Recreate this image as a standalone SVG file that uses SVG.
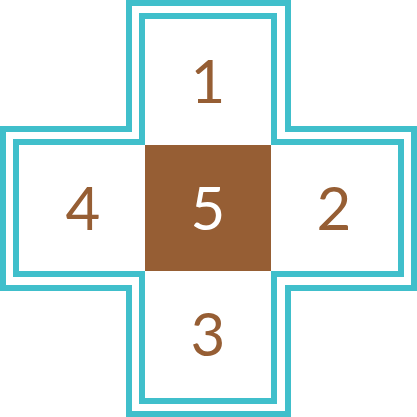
<svg xmlns="http://www.w3.org/2000/svg" width="417" height="417" viewBox="0 0 417 417">
<style>
.frame{fill:none;stroke:#40BFCB;stroke-width:6;stroke-linejoin:miter}
.num{font-family:Lato,"Liberation Sans",sans-serif;font-weight:400;font-size:60px;text-anchor:middle;fill:#965E34}
.num.light{fill:#FFFFFF}
</style>
<rect width="417" height="417" fill="#FFFFFF"/>
<g id="frame">
<polygon class="frame" points="129,3 288,3 288,129 414,129 414,288 288,288 288,414 129,414 129,288 3,288 3,129 129,129"/>
<polygon class="frame" points="142,16 274,16 274,142 401,142 401,274 274,274 274,401 142,401 142,274 16,274 16,142 142,142"/>
</g>
<g id="cell1"><text class="num" x="208" y="103">1</text></g>
<g id="cell4"><text class="num" x="83" y="230">4</text></g>
<g id="cell5"><rect x="145" y="145" width="126" height="126" fill="#965E34"/><text class="num light" x="208" y="230">5</text></g>
<g id="cell2"><text class="num" x="334" y="230">2</text></g>
<g id="cell3"><text class="num" x="208" y="356">3</text></g>
</svg>
